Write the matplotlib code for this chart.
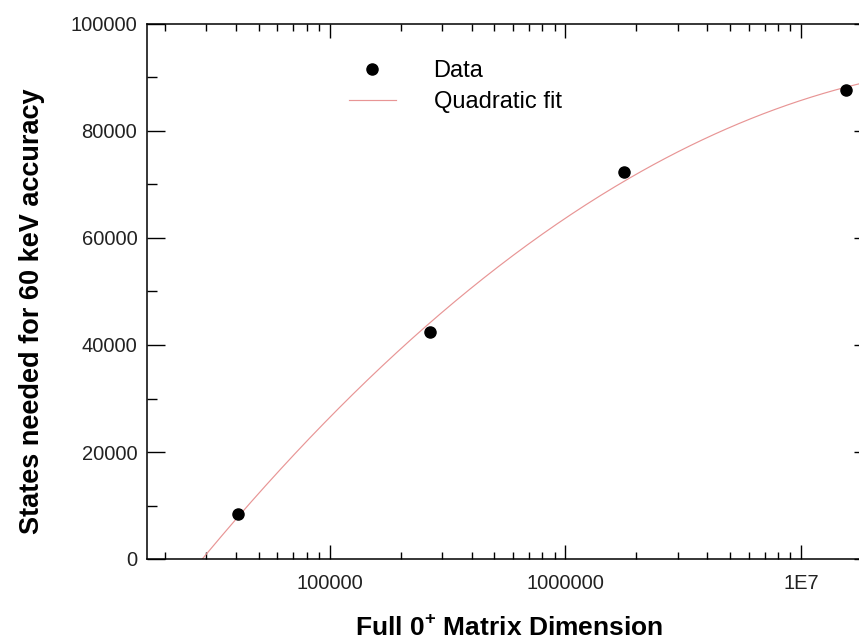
import numpy as np
import matplotlib
matplotlib.use("Agg")
import matplotlib.pyplot as plt
from matplotlib.ticker import LogLocator, MultipleLocator, FixedLocator, FixedFormatter

plt.rcParams['font.family'] = ['Liberation Sans', 'DejaVu Sans']
plt.rcParams['mathtext.fontset'] = 'custom'
plt.rcParams['mathtext.rm'] = 'Liberation Sans:bold'
plt.rcParams['mathtext.bf'] = 'Liberation Sans:bold'

# data
dimension = [40900, 267000, 1780000, 15500000]
states = [8500, 42400, 72300, 87700]

# quadratic fit in log10(dimension)
coef = np.polyfit(np.log10(dimension), states, 2)
xmin, xmax = 16800, 2.0e7
xfit = np.logspace(np.log10(xmin), np.log10(xmax), 300)
yfit = np.polyval(coef, np.log10(xfit))

fig = plt.figure(figsize=(8.59, 6.39), dpi=100)
ax = fig.add_axes([147/859, 1 - 559/639, (872 - 147)/859, (559 - 24)/639])

ax.plot(xfit, yfit, color='#e89595', lw=0.85, label='Quadratic fit', zorder=2)
ax.plot(dimension, states, 'o', color='black', ms=8, label='Data', zorder=3)

ax.set_xscale('log')
ax.set_xlim(xmin, xmax)
ax.set_ylim(0, 100000)

ax.xaxis.set_major_locator(FixedLocator([1e5, 1e6, 1e7]))
ax.xaxis.set_major_formatter(FixedFormatter(['100000', '1000000', '1E7']))
ax.xaxis.set_minor_locator(LogLocator(base=10, subs=np.arange(2, 10), numticks=20))
ax.xaxis.set_minor_formatter(plt.NullFormatter())
ax.yaxis.set_major_locator(MultipleLocator(20000))
ax.yaxis.set_minor_locator(MultipleLocator(10000))

ax.tick_params(which='both', direction='in', top=True, right=True, width=1.0,
               labelsize=14.5, labelcolor='#222222')
ax.tick_params(which='major', length=10)
ax.tick_params(which='minor', length=5)
ax.tick_params(axis='y', which='major', length=13, pad=7)
ax.tick_params(axis='y', which='minor', length=7)
ax.tick_params(axis='x', which='major', pad=11)
for s in ax.spines.values():
    s.set_linewidth(1.1)

ax.set_xlabel(r'Full 0$^{+}$ Matrix Dimension', fontsize=19, fontweight='bold')
ax.set_ylabel('States needed for 60 keV accuracy', fontsize=19.5, fontweight='bold')
ax.xaxis.set_label_coords(0.5, -0.104)
ax.yaxis.set_label_coords(-0.140, 0.464)

h, l = ax.get_legend_handles_labels()
ax.legend(h[::-1], l[::-1], loc='upper left', bbox_to_anchor=(0.278, 0.932),
          frameon=False, fontsize=17, handlelength=2.0, handletextpad=1.6,
          labelspacing=0.38, borderpad=0, borderaxespad=0, numpoints=1)

fig.savefig('out.png', dpi=100)
